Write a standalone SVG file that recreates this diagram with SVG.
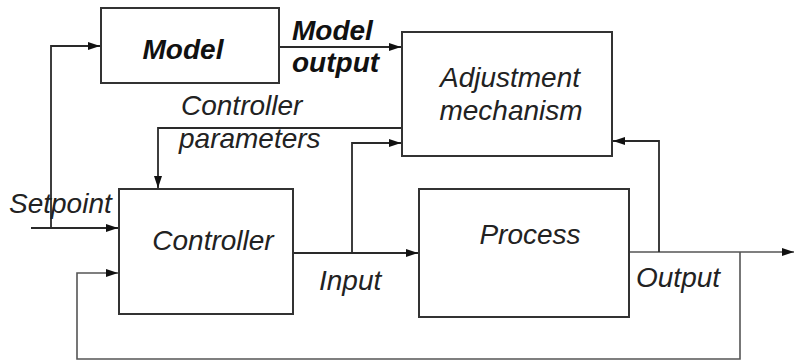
<svg xmlns="http://www.w3.org/2000/svg" width="794" height="363" viewBox="0 0 794 363">
  <style>
    .box { fill: #fff; stroke: #333; stroke-width: 2; }
    .wire { fill: none; stroke: #2a2a2a; stroke-width: 1.8; }
    .wire-light { fill: none; stroke: #555; stroke-width: 1.6; }
    .lbl { font-family: "Liberation Sans", Arial, sans-serif; font-style: italic; font-size: 28px; fill: #222; }
    .bold { font-weight: bold; fill: #111; }
  </style>
  <defs>
    <marker id="arrow" viewBox="0 0 12 8" refX="12" refY="4" markerWidth="12" markerHeight="8" markerUnits="userSpaceOnUse" orient="auto">
      <path d="M0,0 L12,4 L0,8 Z" fill="#111"/>
    </marker>
  </defs>

  <rect width="794" height="363" fill="#fff"/>

  <g id="connectors">
    <!-- setpoint feeding controller and model -->
    <line class="wire" x1="31" y1="228" x2="118" y2="228" marker-end="url(#arrow)"/>
    <polyline class="wire" points="51,228 51,46 100,46" marker-end="url(#arrow)"/>
    <!-- model output to adjustment -->
    <line class="wire" x1="279" y1="47" x2="401" y2="47" marker-end="url(#arrow)"/>
    <!-- controller parameters -->
    <polyline class="wire" points="402,128 158,128 158,188" marker-end="url(#arrow)"/>
    <!-- input to process and adjustment -->
    <line class="wire" x1="293" y1="253" x2="418" y2="253" marker-end="url(#arrow)"/>
    <polyline class="wire" points="352,253 352,143 401,143" marker-end="url(#arrow)"/>
    <!-- output -->
    <line class="wire-light" x1="629" y1="252" x2="794" y2="252" marker-end="url(#arrow)"/>
    <polyline class="wire" points="659,252 659,141 613,141" marker-end="url(#arrow)"/>
    <!-- feedback loop -->
    <polyline class="wire-light" points="740,252 740,359 77,359 77,273 118,273" marker-end="url(#arrow)"/>
  </g>

  <g id="model">
    <rect class="box" x="101" y="8" width="178" height="75"/>
    <text class="lbl bold" x="183" y="59" text-anchor="middle">Model</text>
  </g>

  <g id="adjustment">
    <rect class="box" x="402" y="32" width="210" height="124"/>
    <text class="lbl" x="510" y="87" text-anchor="middle">Adjustment</text>
    <text class="lbl" x="511" y="120" text-anchor="middle">mechanism</text>
  </g>

  <g id="controller">
    <rect class="box" x="119" y="189" width="174" height="125"/>
    <text class="lbl" x="213" y="250" text-anchor="middle">Controller</text>
  </g>

  <g id="process">
    <rect class="box" x="419" y="189" width="210" height="128"/>
    <text class="lbl" x="530" y="244" text-anchor="middle">Process</text>
  </g>

  <g id="labels">
    <text class="lbl bold" x="292" y="40">Model</text>
    <text class="lbl bold" x="292" y="72">output</text>
    <text class="lbl" x="181" y="115">Controller</text>
    <text class="lbl" x="179" y="148">parameters</text>
    <text class="lbl" x="9" y="213">Setpoint</text>
    <text class="lbl" x="319" y="290">Input</text>
    <text class="lbl" x="636" y="287">Output</text>
  </g>
</svg>
